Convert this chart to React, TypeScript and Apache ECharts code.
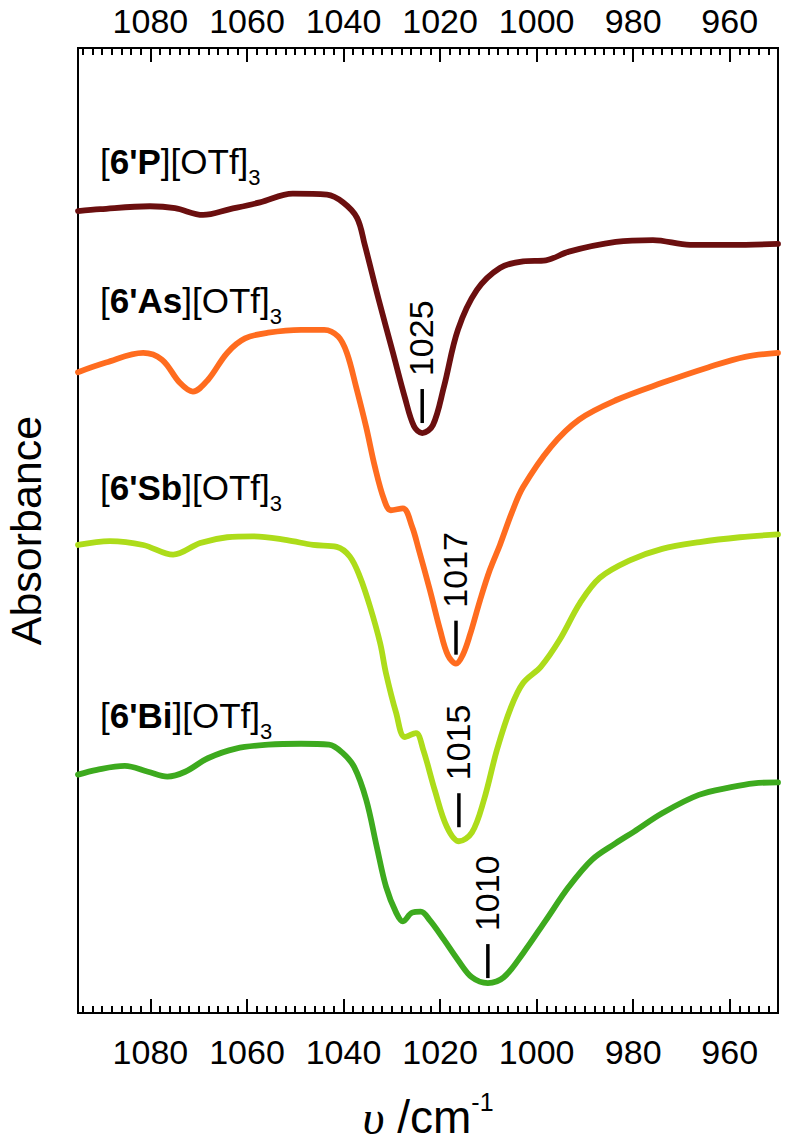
import React, { useEffect, useRef } from "react";
import * as echarts from "echarts";

const FONT = "'Liberation Sans', Arial, Helvetica, sans-serif";

const xMin = 950;
const xMax = 1095;
const majorTicks = [960, 980, 1000, 1020, 1040, 1060, 1080];

// [wavenumber (cm-1), absorbance (arbitrary, offset traces)]
const spectrumP = [
  [1095, 83.1], [1090.4, 83.3], [1080.1, 83.6], [1074.9, 83.4], [1069.1, 82.7],
  [1063.5, 83.3], [1057.3, 84.0], [1050.5, 84.9], [1043.4, 84.8], [1040.1, 84.0],
  [1037.2, 82.4], [1035.6, 79.6], [1032.7, 73.9], [1029.8, 68.5], [1027.3, 63.8],
  [1025.4, 60.8], [1023.7, 60.1], [1021.5, 60.9], [1019.2, 64.9], [1016.3, 70.8],
  [1012.4, 74.9], [1007.6, 77.2], [1002.8, 77.9], [998.1, 78.0], [993.3, 78.9],
  [983.6, 79.9], [975.9, 80.1], [968.2, 79.6], [959.7, 79.6], [950, 79.7],
];
const spectrumAs = [
  [1095, 66.4], [1089.2, 67.4], [1081.5, 68.4], [1077.6, 67.7], [1073.9, 65.3],
  [1071.2, 64.4], [1068.1, 65.6], [1064.1, 68.4], [1060.4, 69.9], [1055.6, 70.5],
  [1048.8, 70.8], [1044.0, 70.8], [1041.1, 70.1], [1039.3, 68.4], [1037.4, 64.9],
  [1035.3, 60.7], [1033.5, 56.6], [1031.6, 53.2], [1030.2, 52.1], [1027.7, 52.3],
  [1025.8, 50.4], [1024.4, 48.0], [1022.1, 43.8], [1020.0, 39.7], [1018.4, 37.1],
  [1016.7, 36.2], [1015.3, 37.1], [1013.8, 39.2], [1011.7, 42.8], [1009.7, 45.9],
  [1007.6, 48.5], [1005.1, 51.9], [1002.8, 54.5], [997.0, 58.7], [991.2, 61.5],
  [983.6, 63.5], [974.0, 65.3], [964.5, 66.9], [956.8, 68.0], [950, 68.4],
];
const spectrumSb = [
  [1095, 48.5], [1088.4, 48.9], [1081.5, 48.5], [1075.3, 47.5], [1069.7, 48.7],
  [1064.1, 49.3], [1058.8, 49.4], [1051.7, 49.0], [1046.3, 48.5], [1041.4, 48.3],
  [1038.7, 47.3], [1036.6, 45.2], [1034.5, 42.1], [1032.4, 38.3], [1031.2, 35.2],
  [1029.1, 31.1], [1027.3, 28.6], [1025.0, 29.0], [1023.5, 27.3], [1021.1, 23.1],
  [1018.6, 19.3], [1016.1, 17.8], [1013.4, 18.7], [1010.9, 22.1], [1008.2, 27.3],
  [1005.3, 31.7], [1002.8, 34.2], [999.1, 35.9], [995.2, 38.7], [991.0, 42.5],
  [986.9, 45.1], [980.7, 46.9], [974.0, 48.1], [966.2, 48.8], [957.9, 49.3], [950, 49.6],
];
const spectrumBi = [
  [1095, 24.7], [1091.1, 25.2], [1085.3, 25.6], [1080.5, 25.0], [1076.5, 24.5],
  [1072.8, 25.0], [1068.1, 26.4], [1062.3, 27.4], [1055.6, 27.8], [1048.8, 27.9],
  [1043.0, 27.8], [1040.3, 27.0], [1037.8, 25.5], [1035.3, 22.1], [1033.1, 17.2],
  [1031.2, 13.1], [1029.1, 10.4], [1027.7, 9.5], [1025.8, 10.4], [1024.0, 10.5],
  [1022.1, 9.6], [1019.2, 7.6], [1016.3, 5.5], [1013.4, 3.7], [1010.1, 3.1],
  [1006.8, 3.7], [1002.8, 6.2], [998.1, 9.6], [993.3, 13.1], [988.5, 15.9],
  [983.6, 17.6], [979.8, 18.8], [974.0, 20.7], [966.4, 22.6], [959.7, 23.4],
  [955.0, 23.8], [950, 23.9],
];

const seriesNames = ["[6'P][OTf]3", "[6'As][OTf]3", "[6'Sb][OTf]3", "[6'Bi][OTf]3"];
const seriesRichLabels = [
  "{n|[}{b|6'P}{n|][OTf]}{s|3}",
  "{n|[}{b|6'As}{n|][OTf]}{s|3}",
  "{n|[}{b|6'Sb}{n|][OTf]}{s|3}",
  "{n|[}{b|6'Bi}{n|][OTf]}{s|3}",
];
const peakLabels = ["1025", "1017", "1015", "1010"];
const colors = ["#6B0F0F", "#FF6C1F", "#ADDC1A", "#3DAA1E"];

// layout (pixels)
const labelPos = [
  [100, 161],
  [100, 300],
  [100, 487],
  [100, 715],
];
const dashGap = [10, 9, 14, 5];

export default function App() {
  const ref = useRef<HTMLDivElement>(null);

  useEffect(() => {
    const chart = echarts.init(ref.current!, null, { renderer: "svg" });
    const spectra = [spectrumP, spectrumAs, spectrumSb, spectrumBi];

    const majorAxis = (position: "top" | "bottom", extra: any) => ({
      type: "value",
      position,
      gridIndex: 0,
      min: xMin,
      max: xMax,
      inverse: true,
      axisLine: { show: false },
      splitLine: { show: false },
      axisTick: {
        show: true,
        inside: true,
        length: 14,
        customValues: majorTicks,
        lineStyle: { color: "#000", width: 2 },
      },
      axisLabel: {
        show: true,
        customValues: majorTicks,
        formatter: (v: number) => String(v),
        color: "#000",
        fontSize: 34,
        fontFamily: FONT,
        margin: position === "top" ? 10 : 22,
      },
      ...extra,
    });
    const minorAxis = (position: "top" | "bottom") => ({
      type: "value",
      position,
      gridIndex: 0,
      min: xMin,
      max: xMax,
      interval: 2,
      inverse: true,
      axisLine: { show: false },
      splitLine: { show: false },
      axisLabel: { show: false },
      axisTick: { show: true, inside: true, length: 7, lineStyle: { color: "#000", width: 2 } },
    });

    chart.setOption({
      animation: false,
      backgroundColor: "#fff",
      grid: {
        left: 78,
        right: 9,
        top: 48,
        bottom: 131,
        containLabel: false,
        outerBoundsMode: "none",
        show: true,
        borderColor: "#000",
        borderWidth: 2,
        backgroundColor: "transparent",
      },
      xAxis: [
        majorAxis("bottom", {
          name: "{u|υ}{n| /cm}{s|-1}",
          nameLocation: "middle",
          nameGap: 84,
          nameTextStyle: {
            lineHeight: 40,
            rich: {
              u: { fontFamily: "'Liberation Serif', 'DejaVu Serif', serif", fontStyle: "italic", fontSize: 48, color: "#000", lineHeight: 40 },
              n: { fontFamily: FONT, fontSize: 46, color: "#000", lineHeight: 40 },
              s: { fontFamily: FONT, fontSize: 25, color: "#000", lineHeight: 10, padding: [0, 0, 30, 0] },
            },
          },
        }),
        minorAxis("bottom"),
        majorAxis("top", {}),
        minorAxis("top"),
      ],
      yAxis: {
        type: "value",
        min: 0,
        max: 100,
        axisLine: { show: false },
        axisTick: { show: false },
        axisLabel: { show: false },
        splitLine: { show: false },
        name: "Absorbance",
        nameLocation: "middle",
        nameGap: 34,
        nameTextStyle: { fontSize: 43, lineHeight: 36, fontFamily: FONT, color: "#000" },
      },
      series: spectra.map((d, i) => ({
        type: "line",
        name: seriesNames[i],
        data: d,
        xAxisIndex: 0,
        yAxisIndex: 0,
        smooth: 0.35,
        showSymbol: false,
        symbol: "none",
        lineStyle: { color: colors[i], width: 5.8, cap: "round", join: "round" },
        itemStyle: { color: colors[i] },
      })),
    });

    const rich = {
      n: { fontSize: 35, fontFamily: FONT, fill: "#000", lineHeight: 40 },
      b: { fontSize: 35, fontFamily: FONT, fontWeight: "bold", fill: "#000", lineHeight: 40 },
      s: { fontSize: 22, fontFamily: FONT, fill: "#000", lineHeight: 10, padding: [32, 0, 0, 0] },
    };

    const graphics: any[] = [];
    seriesRichLabels.forEach((t, i) => {
      graphics.push({
        type: "text",
        x: labelPos[i][0],
        y: labelPos[i][1],
        style: {
          text: t,
          rich,
          fill: "#000",
          align: "left",
          verticalAlign: "middle",
          textAlign: "left",
          textVerticalAlign: "middle",
        },
      });
    });

    spectra.forEach((d, i) => {
      let m = d[0];
      for (const p of d) if (p[1] < m[1]) m = p;
      const pt = chart.convertToPixel({ seriesIndex: i }, m) as number[];
      const px = pt[0];
      const bottom = pt[1] - dashGap[i];
      const top = bottom - 34;
      graphics.push({
        type: "line",
        shape: { x1: px, y1: bottom, x2: px, y2: top },
        style: { stroke: "#000", lineWidth: 3.5 },
      });
      graphics.push({
        type: "text",
        x: px - 1,
        y: top - 13,
        rotation: Math.PI / 2,
        style: {
          text: peakLabels[i],
          fontSize: 34,
          fontFamily: FONT,
          fill: "#000",
          align: "left",
          verticalAlign: "middle",
          textAlign: "left",
          textVerticalAlign: "middle",
        },
      });
    });

    chart.setOption({ graphic: graphics });

    return () => chart.dispose();
  }, []);

  return (
    <div
      ref={ref}
      style={{ position: "absolute", left: 0, top: 0, width: 787, height: 1144 }}
    />
  );
}
